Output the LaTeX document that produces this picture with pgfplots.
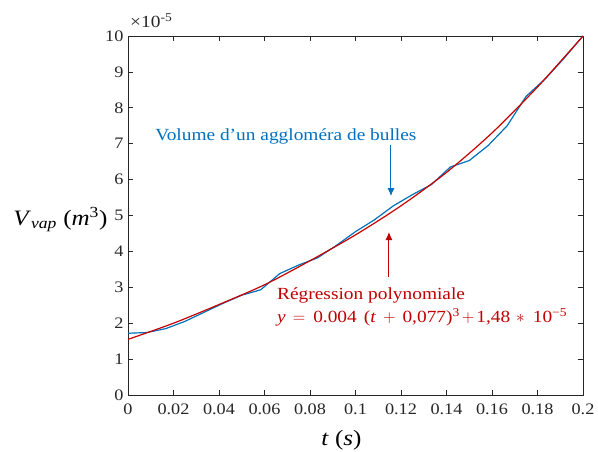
\documentclass[border=0pt]{standalone}
\usepackage{fontspec}
\setmainfont{Liberation Serif}
\newfontfamily\annot[FakeStretch=1.14]{Liberation Serif}
\usepackage{pgfplots}
\pgfplotsset{compat=1.18}
\usetikzlibrary{arrows.meta}
\definecolor{mblue}{RGB}{0,114,189}
\definecolor{tblue}{RGB}{0,112,192}
\definecolor{mred}{RGB}{200,0,0}
\definecolor{tred}{RGB}{192,0,0}
\definecolor{axgray}{RGB}{38,38,38}

% volume of the bubble cluster (x1e-5 m^3)
\pgfplotstableread{
t       v
0       1.72
0.00833 1.74
0.01667 1.85
0.025   2.05
0.03333 2.30
0.04167 2.55
0.05    2.78
0.05833 2.93
0.06667 3.38
0.075   3.62
0.08333 3.82
0.09167 4.17
0.1     4.55
0.10833 4.88
0.11667 5.27
0.125   5.58
0.13333 5.86
0.14167 6.35
0.15    6.53
0.15833 6.95
0.16667 7.50
0.175   8.32
0.18333 8.80
0.19167 9.38
0.2     10.0
}\volume

% polynomial fit
\pgfplotstableread{
t     v
0     1.55
0.02  2.00
0.04  2.52
0.06  3.07
0.08  3.74
0.10  4.46
0.12  5.27
0.14  6.20
0.16  7.30
0.18  8.58
0.20  10.0
}\fit

\begin{document}
\begin{tikzpicture}
\path[use as bounding box] (-128pt,-57pt) rectangle (470pt,395pt);
\begin{axis}[
  scale only axis, width=455pt, height=359pt,
  at={(0,0)}, anchor=south west,
  xmin=0, xmax=0.2, ymin=0, ymax=10,
  xtick={0,0.02,0.04,0.06,0.08,0.1,0.12,0.14,0.16,0.18,0.2},
  xticklabels={0,0.02,0.04,0.06,0.08,0.1,0.12,0.14,0.16,0.18,0.2},
  ytick={0,1,2,3,4,5,6,7,8,9,10},
  yticklabels={0,1,2,3,4,5,6,7,8,9,10},
  tick align=inside, major tick length=5pt,
  axis line style={axgray, line width=0.7pt},
  tick style={axgray, line width=0.7pt},
  ticklabel style={font=\annot\fontsize{16}{18}\selectfont, text=axgray},
  /pgf/number format/assume math mode=true,
  xticklabel style={yshift=-5pt},
  yticklabel style={xshift=-1pt},
  xlabel={\textit{t} (\textit{s})},
  xlabel style={font=\annot\fontsize{22}{24}\selectfont, text=black, xshift=-14pt, yshift=-9pt},
  ylabel={\textit{V}\textsubscript{\textit{vap}} (\textit{m}\textsuperscript{3})},
  ylabel style={rotate=-90, font=\annot\fontsize{22}{24}\selectfont, text=black, xshift=9pt, yshift=-4pt},
  clip=false,
]
\addplot[mblue, line width=1.2pt] table[x=t, y=v] {\volume};
\addplot[mred, line width=1.2pt, smooth] table[x=t, y=v] {\fit};

\node[anchor=base west, inner sep=0, text=axgray, font=\annot\fontsize{17}{19}\selectfont]
  at (rel axis cs:0,1) [xshift=2pt, yshift=8pt] {×10\textsuperscript{-5}};

\node[anchor=base west, inner sep=0, text=tblue, font=\annot\fontsize{17}{20}\selectfont]
  at (axis cs:0.0119,7.1) {Volume d’un aggloméra de bulles};
\draw[tblue, line width=1pt, -{Latex[length=8pt, width=7pt]}]
  (axis cs:0.1156,6.96) -- (axis cs:0.1156,5.54);

\node[anchor=base west, inner sep=0, text=tred, font=\annot\fontsize{17}{20}\selectfont]
  at (axis cs:0.0655,2.65) {Régression polynomiale};
\node[anchor=base west, inner sep=0, text=tred, font=\annot\fontsize{17}{20}\selectfont]
  at (axis cs:0.0655,2.01) {\textit{y}\hspace{7pt}$=$\hspace{8pt}0.004\hspace{7pt}(\textit{t}\hspace{7pt}$+$\hspace{7pt}0,077)\textsuperscript{3}\hspace{2pt}$+$\hspace{2pt}1,48\hspace{6pt}$\ast$\hspace{8pt}10\textsuperscript{−5}};
\draw[tred, line width=1pt, -{Latex[length=8pt, width=7pt]}]
  (axis cs:0.1147,3.29) -- (axis cs:0.1147,4.54);
\end{axis}
\end{tikzpicture}
\end{document}
